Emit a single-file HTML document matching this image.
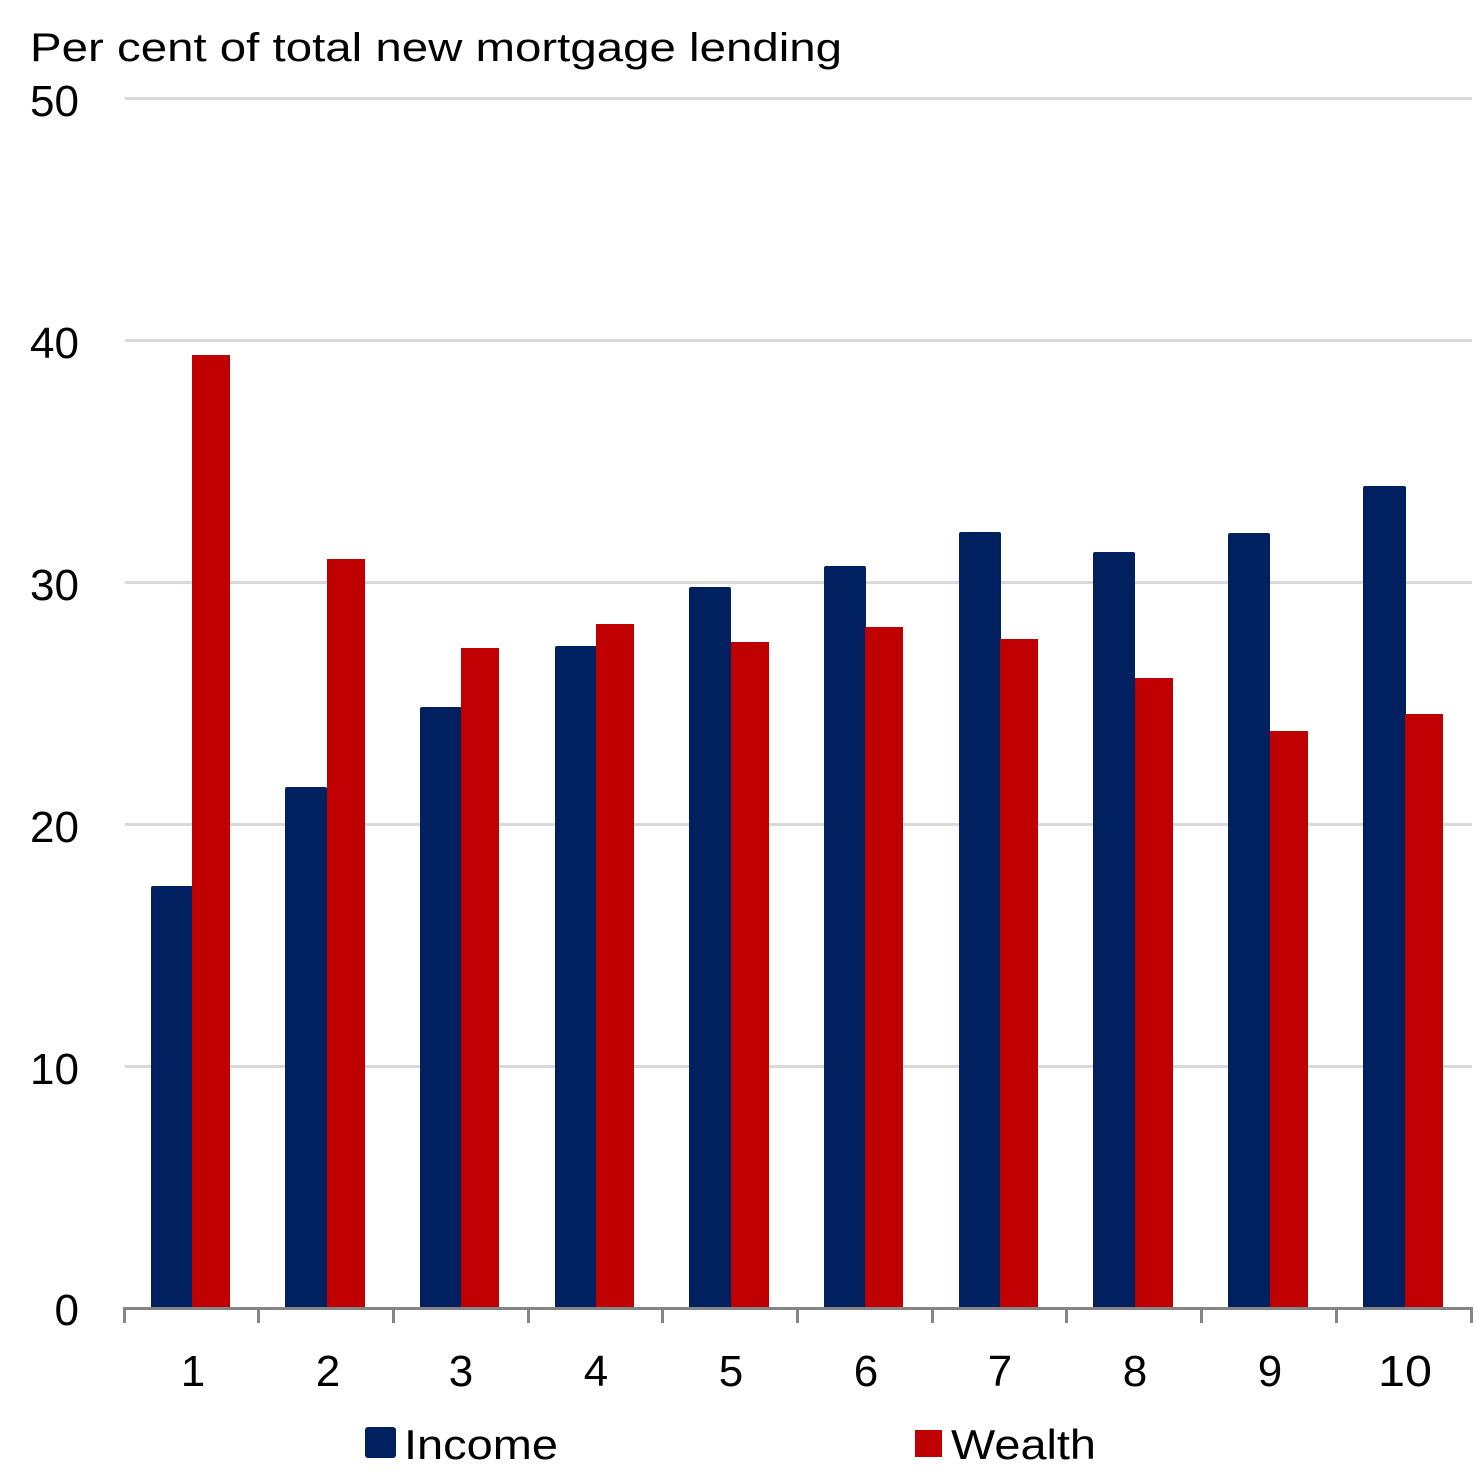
<!DOCTYPE html>
<html><head><meta charset="utf-8"><style>
html,body{margin:0;padding:0;background:#fff;}
svg{display:block;}
text{font-family:"Liberation Sans",sans-serif;fill:#000;}
</style></head><body>
<svg width="1477" height="1478" viewBox="0 0 1477 1478" xmlns="http://www.w3.org/2000/svg">
<text x="30" y="61" font-size="40" textLength="812" lengthAdjust="spacingAndGlyphs">Per cent of total new mortgage lending</text>
<g fill="#d9d9d9">
<rect x="125" y="97" width="1347" height="3"/>
<rect x="125" y="339" width="1347" height="3"/>
<rect x="125" y="581" width="1347" height="3"/>
<rect x="125" y="823" width="1347" height="3"/>
<rect x="125" y="1065" width="1347" height="3"/>
</g>
<g font-size="44" text-anchor="end">
<text x="79" y="116">50</text>
<text x="79" y="358">40</text>
<text x="79" y="600">30</text>
<text x="79" y="842">20</text>
<text x="79" y="1084">10</text>
<text x="79" y="1325">0</text>
</g>
<g fill="#002060">
<rect x="151" y="886" width="42" height="423" rx="2"/>
<rect x="285" y="787" width="42" height="522" rx="2"/>
<rect x="420" y="707" width="42" height="602" rx="2"/>
<rect x="555" y="646" width="42" height="663" rx="2"/>
<rect x="689" y="587" width="42" height="722" rx="2"/>
<rect x="824" y="566" width="42" height="743" rx="2"/>
<rect x="959" y="532" width="42" height="777" rx="2"/>
<rect x="1093" y="552" width="42" height="757" rx="2"/>
<rect x="1228" y="533" width="42" height="776" rx="2"/>
<rect x="1363" y="486" width="43" height="823" rx="2"/>
</g>
<g fill="#c00000">
<rect x="192" y="355" width="38" height="954"/>
<rect x="327" y="559" width="38" height="750"/>
<rect x="461" y="648" width="38" height="661"/>
<rect x="596" y="624" width="38" height="685"/>
<rect x="731" y="642" width="38" height="667"/>
<rect x="865" y="627" width="38" height="682"/>
<rect x="1000" y="639" width="38" height="670"/>
<rect x="1135" y="678" width="38" height="631"/>
<rect x="1270" y="731" width="38" height="578"/>
<rect x="1405" y="714" width="38" height="595"/>
</g>
<g fill="#858585">
<rect x="123" y="1307" width="1350" height="3"/>
<rect x="123" y="1307" width="3" height="16"/>
<rect x="257" y="1307" width="3" height="16"/>
<rect x="392" y="1307" width="3" height="16"/>
<rect x="527" y="1307" width="3" height="16"/>
<rect x="661" y="1307" width="3" height="16"/>
<rect x="796" y="1307" width="3" height="16"/>
<rect x="931" y="1307" width="3" height="16"/>
<rect x="1065" y="1307" width="3" height="16"/>
<rect x="1200" y="1307" width="3" height="16"/>
<rect x="1335" y="1307" width="3" height="16"/>
<rect x="1470" y="1307" width="3" height="16"/>
</g>
<g font-size="44" text-anchor="middle">
<text x="193" y="1386">1</text>
<text x="328" y="1386">2</text>
<text x="461" y="1386">3</text>
<text x="596" y="1386">4</text>
<text x="731" y="1386">5</text>
<text x="866" y="1386">6</text>
<text x="1000" y="1386">7</text>
<text x="1135" y="1386">8</text>
<text x="1270" y="1386">9</text>
<text x="1405" y="1386" textLength="54" lengthAdjust="spacingAndGlyphs">10</text>
</g>
<rect x="365" y="1427" width="31" height="31" rx="3" fill="#002060"/>
<text x="404" y="1459" font-size="42" textLength="154" lengthAdjust="spacingAndGlyphs">Income</text>
<rect x="915" y="1430" width="27" height="27" fill="#c00000"/>
<text x="951" y="1459" font-size="42" textLength="145" lengthAdjust="spacingAndGlyphs">Wealth</text>
</svg>
</body></html>
